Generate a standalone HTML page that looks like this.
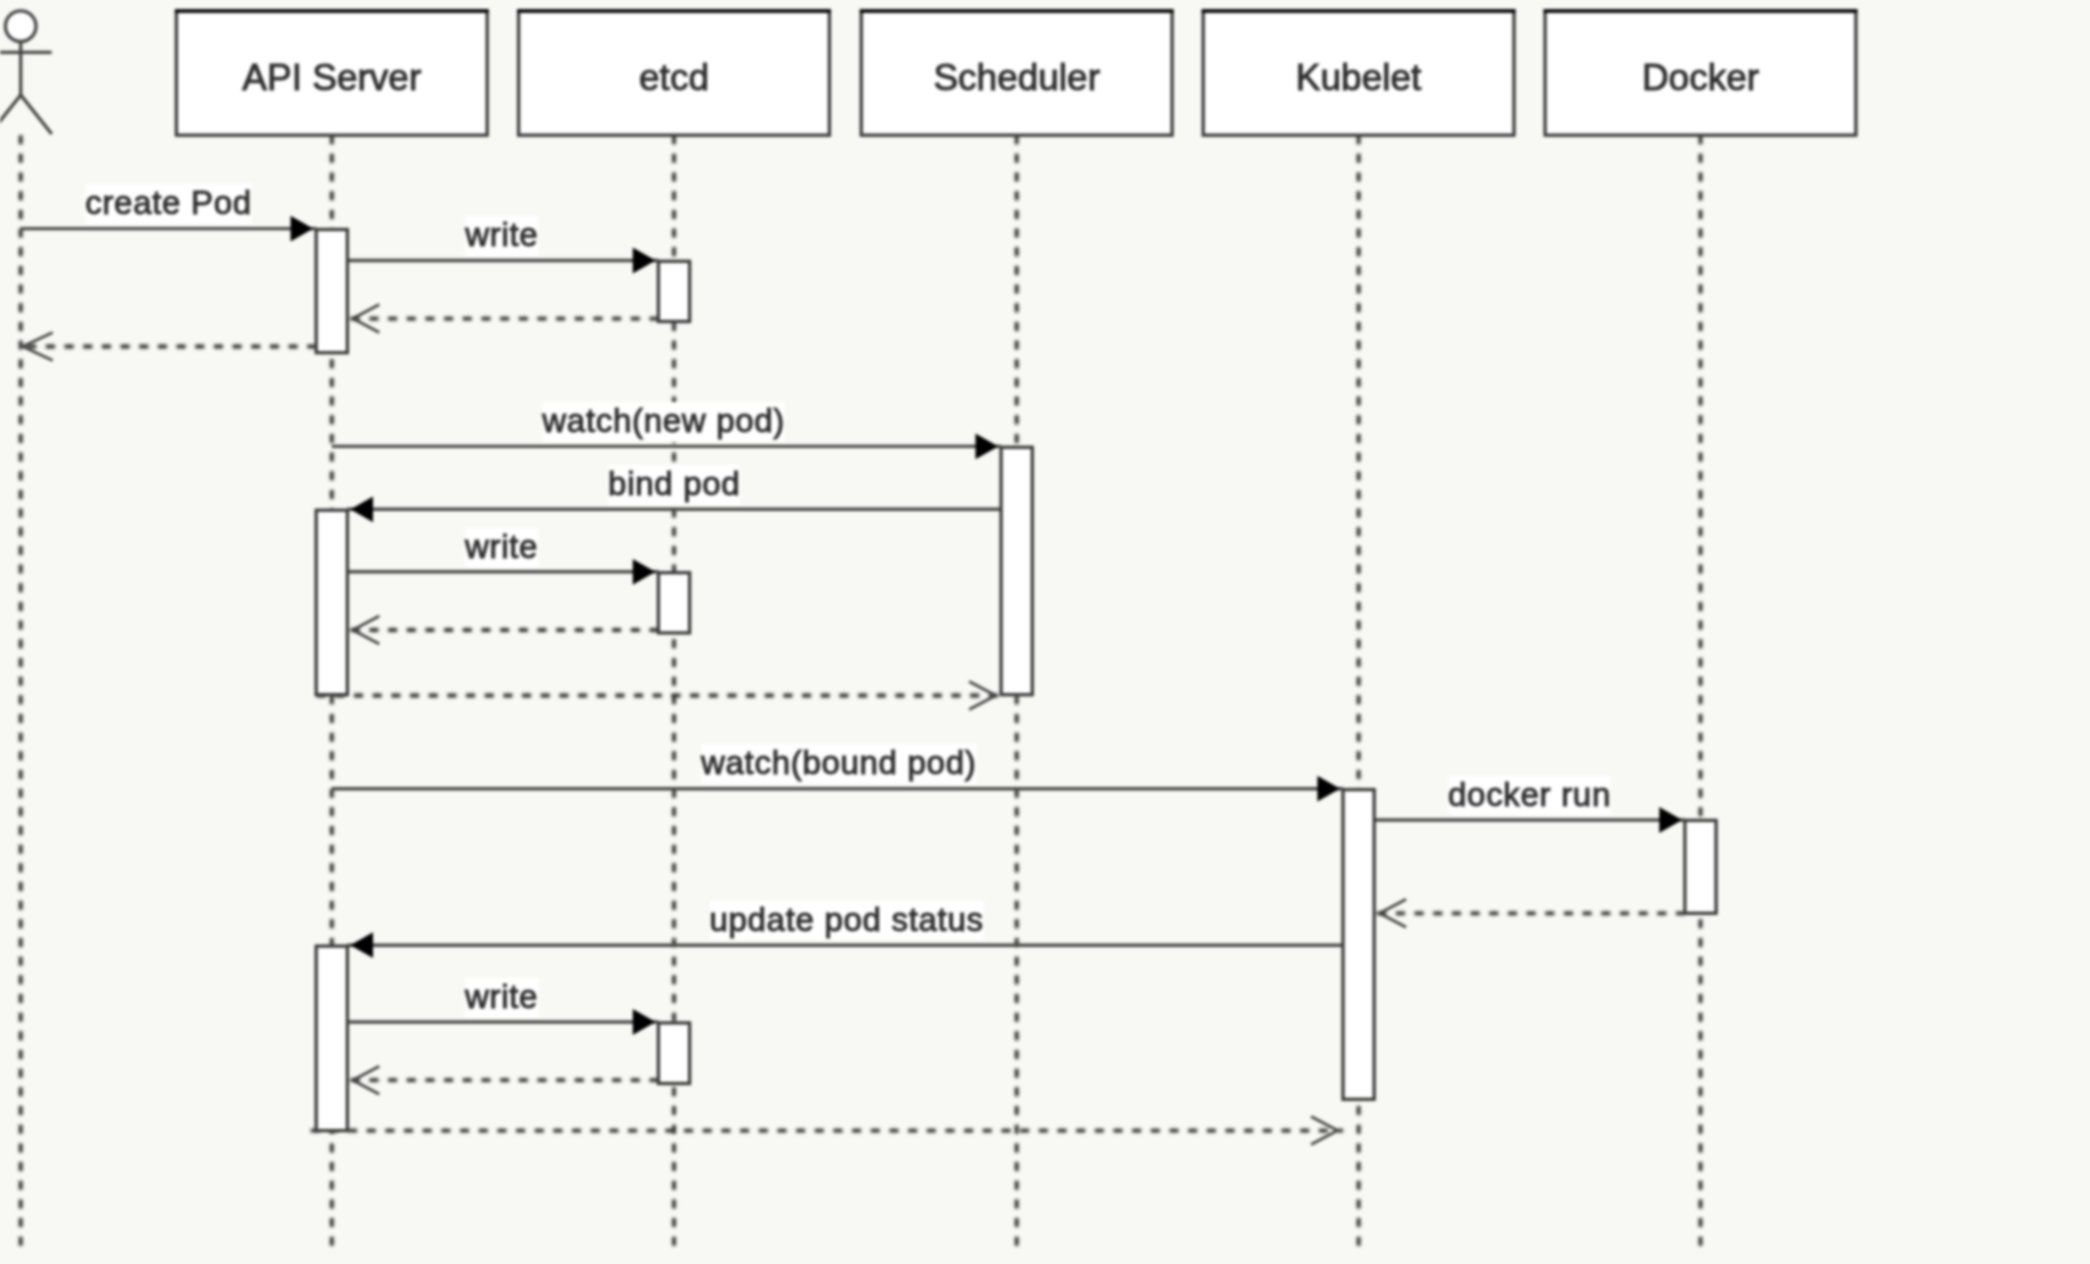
<!DOCTYPE html>
<html><head><meta charset="utf-8"><style>
html,body{margin:0;padding:0;background:#f8f8f4;}
#c{position:relative;width:2090px;height:1264px;overflow:hidden;background:#f8f8f4;filter:blur(1.7px);}
svg{position:absolute;left:0;top:0;}
.lbl,.ttl{position:absolute;transform:translateX(-50%);white-space:nowrap;font-family:"Liberation Sans",sans-serif;color:#2e2e2e;line-height:normal;-webkit-text-stroke:1px #2e2e2e;}
.lbl{font-size:33px;letter-spacing:0.7px;background:#fff;padding-bottom:1.5px;}
.ttl{font-size:37px;}
</style></head><body><div id="c">
<svg width="2090" height="1264" viewBox="0 0 2090 1264">
<defs><filter id="db" x="-10" y="-10" width="2110" height="1284" filterUnits="userSpaceOnUse"><feGaussianBlur stdDeviation="0.9"/></filter><filter id="mb" x="-10" y="-10" width="2110" height="1284" filterUnits="userSpaceOnUse"><feGaussianBlur stdDeviation="0.5"/></filter></defs>
<line x1="20.7" y1="135.2" x2="20.7" y2="1246.0" stroke="#2a2a2a" stroke-width="3.8" stroke-dasharray="9.0 9.67" filter="url(#db)"/>
<line x1="331.8" y1="135.2" x2="331.8" y2="1246.0" stroke="#2a2a2a" stroke-width="3.8" stroke-dasharray="9.0 9.67" filter="url(#db)"/>
<line x1="674.0" y1="135.2" x2="674.0" y2="1246.0" stroke="#2a2a2a" stroke-width="3.8" stroke-dasharray="9.0 9.67" filter="url(#db)"/>
<line x1="1016.7" y1="135.2" x2="1016.7" y2="1246.0" stroke="#2a2a2a" stroke-width="3.8" stroke-dasharray="9.0 9.67" filter="url(#db)"/>
<line x1="1358.6" y1="135.2" x2="1358.6" y2="1246.0" stroke="#2a2a2a" stroke-width="3.8" stroke-dasharray="9.0 9.67" filter="url(#db)"/>
<line x1="1700.5" y1="135.2" x2="1700.5" y2="1246.0" stroke="#2a2a2a" stroke-width="3.8" stroke-dasharray="9.0 9.67" filter="url(#db)"/>
<g fill="none" stroke="#444" stroke-width="3.3"><circle cx="20.7" cy="26.2" r="15.3" fill="#fff"/><line x1="20.7" y1="41.5" x2="20.7" y2="95"/><line x1="-10.3" y1="52.3" x2="51.7" y2="52.3"/><polyline points="-10.3,134 20.7,95 51.7,134"/></g>
<rect x="176.4" y="11.0" width="310.8" height="124.19999999999999" fill="#fff" stroke="#3a3a3a" stroke-width="3.3"/>
<line x1="174.9" y1="11.0" x2="488.70000000000005" y2="11.0" stroke="#000" stroke-width="3.6"/>
<rect x="518.6" y="11.0" width="310.8" height="124.19999999999999" fill="#fff" stroke="#3a3a3a" stroke-width="3.3"/>
<line x1="517.1" y1="11.0" x2="830.9" y2="11.0" stroke="#000" stroke-width="3.6"/>
<rect x="861.3000000000001" y="11.0" width="310.8" height="124.19999999999999" fill="#fff" stroke="#3a3a3a" stroke-width="3.3"/>
<line x1="859.8000000000001" y1="11.0" x2="1173.6000000000001" y2="11.0" stroke="#000" stroke-width="3.6"/>
<rect x="1203.1999999999998" y="11.0" width="310.8" height="124.19999999999999" fill="#fff" stroke="#3a3a3a" stroke-width="3.3"/>
<line x1="1201.6999999999998" y1="11.0" x2="1515.5" y2="11.0" stroke="#000" stroke-width="3.6"/>
<rect x="1545.1" y="11.0" width="310.8" height="124.19999999999999" fill="#fff" stroke="#3a3a3a" stroke-width="3.3"/>
<line x1="1543.6" y1="11.0" x2="1857.4" y2="11.0" stroke="#000" stroke-width="3.6"/>
<line x1="20.7" y1="228.6" x2="316.3" y2="228.6" stroke="#4a4a4a" stroke-width="3.4" filter="url(#mb)"/>
<line x1="347.3" y1="260.5" x2="658.5" y2="260.5" stroke="#4a4a4a" stroke-width="3.4" filter="url(#mb)"/>
<line x1="331.8" y1="446.4" x2="1001.2" y2="446.4" stroke="#4a4a4a" stroke-width="3.4" filter="url(#mb)"/>
<line x1="1001.2" y1="509.3" x2="347.3" y2="509.3" stroke="#4a4a4a" stroke-width="3.4" filter="url(#mb)"/>
<line x1="347.3" y1="571.8" x2="658.5" y2="571.8" stroke="#4a4a4a" stroke-width="3.4" filter="url(#mb)"/>
<line x1="331.8" y1="788.7" x2="1343.1" y2="788.7" stroke="#4a4a4a" stroke-width="3.4" filter="url(#mb)"/>
<line x1="1374.1" y1="820.0" x2="1685.0" y2="820.0" stroke="#4a4a4a" stroke-width="3.4" filter="url(#mb)"/>
<line x1="1343.1" y1="945.2" x2="347.3" y2="945.2" stroke="#4a4a4a" stroke-width="3.4" filter="url(#mb)"/>
<line x1="347.3" y1="1022.0" x2="658.5" y2="1022.0" stroke="#4a4a4a" stroke-width="3.4" filter="url(#mb)"/>
<line x1="658.5" y1="318.6" x2="347.3" y2="318.6" stroke="#2a2a2a" stroke-width="3.8" stroke-dasharray="9.0 9.67" filter="url(#db)"/>
<line x1="316.3" y1="346.5" x2="20.7" y2="346.5" stroke="#2a2a2a" stroke-width="3.8" stroke-dasharray="9.0 9.67" filter="url(#db)"/>
<line x1="658.5" y1="630.0" x2="347.3" y2="630.0" stroke="#2a2a2a" stroke-width="3.8" stroke-dasharray="9.0 9.67" filter="url(#db)"/>
<line x1="316.7" y1="695.5" x2="1001.2" y2="695.5" stroke="#2a2a2a" stroke-width="3.8" stroke-dasharray="9.0 9.67" filter="url(#db)"/>
<line x1="1685.0" y1="913.3" x2="1374.1" y2="913.3" stroke="#2a2a2a" stroke-width="3.8" stroke-dasharray="9.0 9.67" filter="url(#db)"/>
<line x1="658.5" y1="1080.2" x2="347.3" y2="1080.2" stroke="#2a2a2a" stroke-width="3.8" stroke-dasharray="9.0 9.67" filter="url(#db)"/>
<line x1="310.7" y1="1130.6" x2="1343.1" y2="1130.6" stroke="#2a2a2a" stroke-width="3.8" stroke-dasharray="9.0 9.67" filter="url(#db)"/>
<rect x="316.2" y="229.5" width="31.2" height="123.19999999999999" fill="#fff" stroke="#3a3a3a" stroke-width="3.3"/>
<rect x="658.4" y="261.29999999999995" width="31.2" height="60.200000000000045" fill="#fff" stroke="#3a3a3a" stroke-width="3.3"/>
<rect x="316.2" y="510.2" width="31.2" height="184.50000000000006" fill="#fff" stroke="#3a3a3a" stroke-width="3.3"/>
<rect x="658.4" y="572.6999999999999" width="31.2" height="60.200000000000045" fill="#fff" stroke="#3a3a3a" stroke-width="3.3"/>
<rect x="1001.1" y="447.29999999999995" width="31.2" height="247.4000000000001" fill="#fff" stroke="#3a3a3a" stroke-width="3.3"/>
<rect x="316.2" y="946.1" width="31.2" height="184.4999999999999" fill="#fff" stroke="#3a3a3a" stroke-width="3.3"/>
<rect x="658.4" y="1022.9" width="31.2" height="60.60000000000002" fill="#fff" stroke="#3a3a3a" stroke-width="3.3"/>
<rect x="1343.0" y="789.6" width="31.2" height="309.69999999999993" fill="#fff" stroke="#3a3a3a" stroke-width="3.3"/>
<rect x="1684.9" y="820.4" width="31.2" height="92.89999999999998" fill="#fff" stroke="#3a3a3a" stroke-width="3.3"/>
<polygon points="311.8,228.6 291.3,217.0 291.3,240.2" fill="#000" stroke="#000" stroke-width="1.5" stroke-linejoin="miter" filter="url(#mb)"/>
<polygon points="654.0,260.5 633.5,248.9 633.5,272.1" fill="#000" stroke="#000" stroke-width="1.5" stroke-linejoin="miter" filter="url(#mb)"/>
<polygon points="996.7,446.4 976.2,434.79999999999995 976.2,458.0" fill="#000" stroke="#000" stroke-width="1.5" stroke-linejoin="miter" filter="url(#mb)"/>
<polygon points="351.8,509.3 372.3,497.7 372.3,520.9" fill="#000" stroke="#000" stroke-width="1.5" stroke-linejoin="miter" filter="url(#mb)"/>
<polygon points="654.0,571.8 633.5,560.1999999999999 633.5,583.4" fill="#000" stroke="#000" stroke-width="1.5" stroke-linejoin="miter" filter="url(#mb)"/>
<polygon points="1338.6,788.7 1318.1,777.1 1318.1,800.3000000000001" fill="#000" stroke="#000" stroke-width="1.5" stroke-linejoin="miter" filter="url(#mb)"/>
<polygon points="1680.5,820.0 1660.0,808.4 1660.0,831.6" fill="#000" stroke="#000" stroke-width="1.5" stroke-linejoin="miter" filter="url(#mb)"/>
<polygon points="351.8,945.2 372.3,933.6 372.3,956.8000000000001" fill="#000" stroke="#000" stroke-width="1.5" stroke-linejoin="miter" filter="url(#mb)"/>
<polygon points="654.0,1022.0 633.5,1010.4 633.5,1033.6" fill="#000" stroke="#000" stroke-width="1.5" stroke-linejoin="miter" filter="url(#mb)"/>
<polyline points="379.3,304.6 352.8,318.6 379.3,332.6" fill="none" stroke="#444" stroke-width="2.8"/>
<polyline points="52.7,332.5 22.7,346.5 52.7,360.5" fill="none" stroke="#444" stroke-width="2.8"/>
<polyline points="379.3,616.0 352.8,630.0 379.3,644.0" fill="none" stroke="#444" stroke-width="2.8"/>
<polyline points="969.2,681.5 995.7,695.5 969.2,709.5" fill="none" stroke="#444" stroke-width="2.8"/>
<polyline points="1406.1,899.3 1379.6,913.3 1406.1,927.3" fill="none" stroke="#444" stroke-width="2.8"/>
<polyline points="379.3,1066.2 352.8,1080.2 379.3,1094.2" fill="none" stroke="#444" stroke-width="2.8"/>
<polyline points="1311.1,1116.6 1337.6,1130.6 1311.1,1144.6" fill="none" stroke="#444" stroke-width="2.8"/>
</svg>
<div class="lbl" style="left:168.5px;top:184.3px">create Pod</div>
<div class="lbl" style="left:501.8px;top:216.2px">write</div>
<div class="lbl" style="left:663.7px;top:402.1px">watch(new pod)</div>
<div class="lbl" style="left:674.2px;top:465.0px">bind pod</div>
<div class="lbl" style="left:501.6px;top:527.5px">write</div>
<div class="lbl" style="left:838.7px;top:744.4px">watch(bound pod)</div>
<div class="lbl" style="left:1529.5px;top:775.7px">docker run</div>
<div class="lbl" style="left:846.6px;top:900.9px">update pod status</div>
<div class="lbl" style="left:501.6px;top:977.7px">write</div>
<div class="ttl" style="left:331.8px;top:56.7px">API Server</div>
<div class="ttl" style="left:674.0px;top:56.7px">etcd</div>
<div class="ttl" style="left:1016.7px;top:56.7px">Scheduler</div>
<div class="ttl" style="left:1358.6px;top:56.7px">Kubelet</div>
<div class="ttl" style="left:1700.5px;top:56.7px">Docker</div>
</div></body></html>
